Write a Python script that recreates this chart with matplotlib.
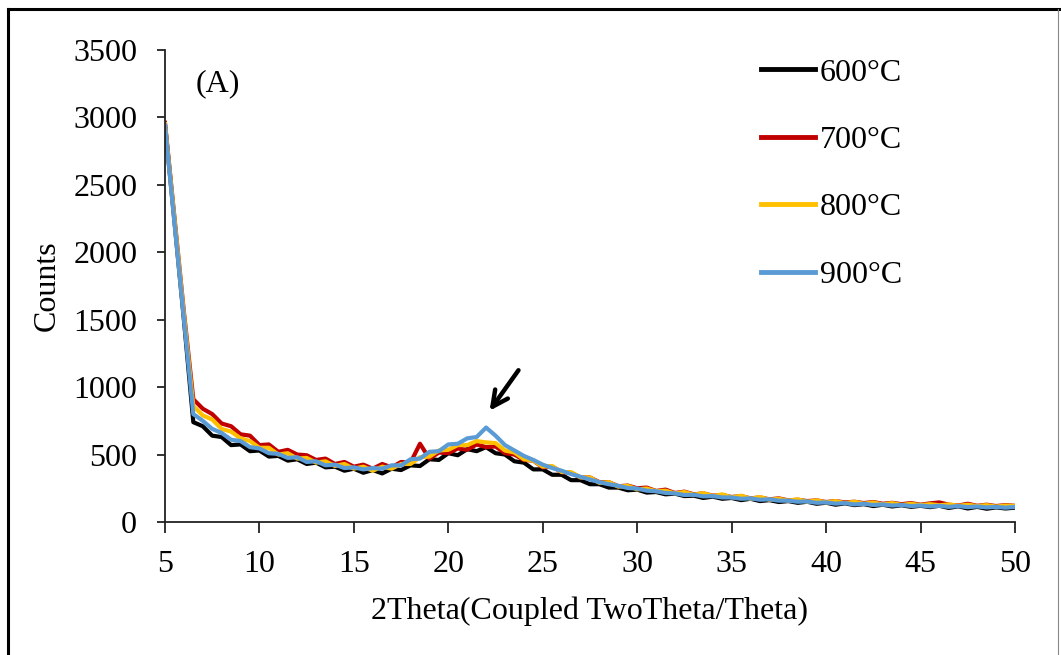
import numpy as np
import matplotlib
matplotlib.use("Agg")
import matplotlib.pyplot as plt
from matplotlib.lines import Line2D

plt.rcParams['font.family'] = ['Liberation Serif', 'DejaVu Serif']

two_theta = np.arange(5.0, 50.01, 0.5)

counts_600 = [2950, 2230, 1500, 740, 710, 640, 630, 570, 575, 525,
              530, 485, 490, 455, 465, 430, 440, 405, 410, 380,
              395, 365, 385, 360, 395, 385, 420, 415, 465, 460,
              510, 495, 540, 525, 555, 510, 500, 450, 440, 390,
              390, 350, 350, 310, 310, 280, 280, 255, 255, 235,
              240, 218, 222, 205, 210, 192, 195, 178, 188, 172,
              178, 162, 172, 155, 162, 148, 155, 142, 150, 135,
              143, 128, 138, 125, 132, 118, 128, 115, 124, 112,
              120, 110, 120, 104, 116, 100, 112, 98, 108, 100,
              106]
counts_700 = [2960, 2260, 1560, 910, 840, 800, 730, 710, 650, 640,
              570, 575, 520, 535, 500, 495, 460, 470, 430, 445,
              410, 425, 395, 430, 405, 445, 440, 580, 470, 515,
              510, 545, 535, 575, 555, 560, 510, 500, 460, 455,
              405, 410, 370, 365, 330, 330, 295, 295, 265, 270,
              250, 255, 230, 240, 215, 225, 205, 212, 195, 200,
              185, 192, 175, 182, 168, 175, 160, 165, 155, 160,
              148, 155, 145, 150, 140, 148, 135, 142, 132, 140,
              128, 138, 145, 128, 122, 135, 120, 128, 118, 125,
              120]
counts_800 = [2950, 2250, 1540, 860, 790, 760, 690, 670, 620, 600,
              550, 550, 500, 510, 470, 475, 440, 450, 415, 430,
              395, 410, 380, 410, 395, 430, 430, 480, 485, 530,
              535, 570, 570, 600, 590, 585, 530, 515, 465, 455,
              410, 415, 370, 370, 330, 330, 290, 295, 262, 268,
              242, 248, 228, 232, 212, 222, 202, 214, 192, 205,
              182, 195, 172, 185, 165, 172, 158, 168, 150, 160,
              145, 155, 140, 150, 135, 145, 130, 140, 126, 135,
              125, 132, 124, 130, 120, 128, 118, 125, 114, 122,
              118]
counts_900 = [2940, 2220, 1510, 800, 750, 690, 660, 610, 600, 555,
              545, 510, 505, 475, 480, 445, 450, 420, 425, 400,
              405, 390, 400, 395, 420, 420, 465, 470, 520, 525,
              575, 580, 620, 630, 700, 640, 570, 530, 490, 460,
              425, 400, 380, 355, 335, 315, 295, 280, 268, 252,
              248, 232, 228, 215, 212, 200, 202, 190, 192, 182,
              182, 172, 175, 165, 168, 158, 158, 150, 152, 142,
              145, 136, 140, 130, 135, 126, 130, 122, 126, 118,
              122, 115, 120, 112, 118, 110, 115, 108, 112, 106,
              112]

series_labels = ['600°C', '700°C', '800°C', '900°C']
series_colors = ['#000000', '#C00000', '#FFC000', '#5B9BD5']
series_values = [counts_600, counts_700, counts_800, counts_900]

x_ticks = [5, 10, 15, 20, 25, 30, 35, 40, 45, 50]
y_ticks = [0, 500, 1000, 1500, 2000, 2500, 3000, 3500]

FS = 23

fig = plt.figure(figsize=(10.61, 6.55), dpi=100)
ax = fig.add_axes([0.1555, 0.2031, 0.8011, 0.7206])

for vals, col, lab in zip(series_values, series_colors, series_labels):
    ax.plot(two_theta, vals, color=col, lw=3.0, label=lab)

ax.set_xlim(5, 50)
ax.set_ylim(0, 3500)
ax.set_xticks(x_ticks)
ax.set_yticks(y_ticks)
for s in ['top', 'right']:
    ax.spines[s].set_visible(False)
for s in ['left', 'bottom']:
    ax.spines[s].set_linewidth(1.3)
    ax.spines[s].set_color('#222222')
ax.tick_params(axis='both', direction='out', width=1.3,
               labelsize=FS, color='#222222')
ax.tick_params(axis='x', length=8, pad=12)
ax.tick_params(axis='y', length=6, pad=14)

ax.set_xlabel('2Theta(Coupled TwoTheta/Theta)', fontsize=FS)
ax.set_ylabel('Counts', fontsize=FS)
ax.xaxis.set_label_coords(0.5, -0.157)
ax.yaxis.set_label_coords(-0.121, 0.5)

ax.text(6.6, 3250, '(A)', fontsize=FS, ha='left', va='center')

ax.annotate('', xy=(22.1, 808), xytext=(23.8, 1142),
            arrowprops=dict(arrowstyle='->', lw=3.2, color='black',
                            mutation_scale=28))

handles = [Line2D([0], [0], color=c, lw=3.5) for c in series_colors]
leg = ax.legend(handles, series_labels, loc='upper left',
                bbox_to_anchor=(0.667, 1.0435), frameon=False, fontsize=FS,
                labelspacing=1.19, handlelength=1.7, handletextpad=0.15)

# figure border (top/left black, right faint)
fig.add_artist(Line2D([0.0075, 0.0075], [0.0, 0.987], transform=fig.transFigure,
                      color='black', lw=2.2))
fig.add_artist(Line2D([0.0075, 1.0], [0.987, 0.987], transform=fig.transFigure,
                      color='black', lw=2.2))
fig.add_artist(Line2D([0.997, 0.997], [0.0, 0.987], transform=fig.transFigure,
                      color='#888888', lw=0.8))

fig.savefig('out.png', dpi=100)
